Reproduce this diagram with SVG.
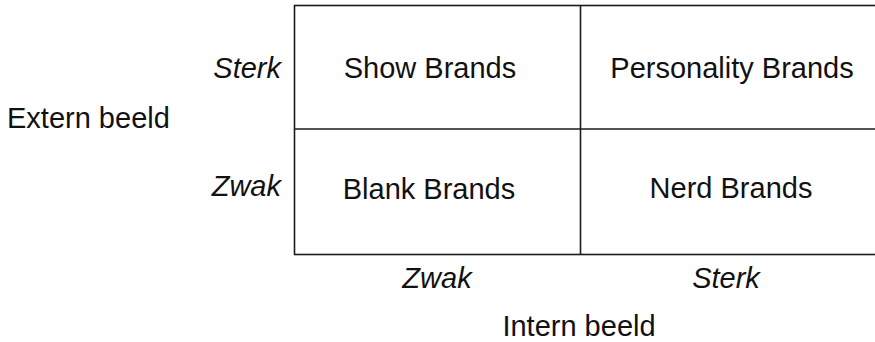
<svg xmlns="http://www.w3.org/2000/svg" width="875" height="342" viewBox="0 0 875 342">
<style>
text{font-family:"Liberation Sans",Arial,sans-serif;font-size:29px;fill:#111}
.i{font-style:italic}
.m{text-anchor:middle}
.e{text-anchor:end}
.ln{stroke:#1a1a1a;stroke-width:1.6;fill:none}
</style>
<rect width="875" height="342" fill="#fff"/>
<g id="grid">
<rect class="ln" x="294.5" y="5.5" width="600" height="249"/>
<line class="ln" x1="580.5" y1="5.5" x2="580.5" y2="254.5"/>
<line class="ln" x1="294.5" y1="129" x2="880" y2="129"/>
</g>
<g id="show"><text class="m" x="430" y="78">Show Brands</text></g>
<g id="personality"><text class="m" x="732" y="78">Personality Brands</text></g>
<g id="blank"><text class="m" x="429" y="199">Blank Brands</text></g>
<g id="nerd"><text class="m" x="731" y="198">Nerd Brands</text></g>
<g id="axis-y">
<text class="i e" x="281" y="78">Sterk</text>
<text class="i e" x="281" y="196">Zwak</text>
<text x="7" y="128">Extern beeld</text>
</g>
<g id="axis-x">
<text class="i m" x="437" y="288">Zwak</text>
<text class="i m" x="726" y="288">Sterk</text>
<text class="m" x="579" y="336">Intern beeld</text>
</g>
</svg>
